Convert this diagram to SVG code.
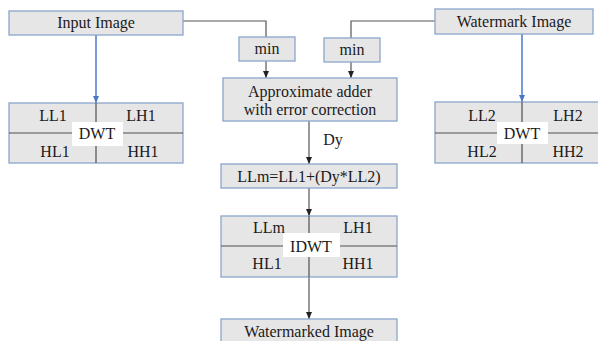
<svg xmlns="http://www.w3.org/2000/svg" width="598" height="341" viewBox="0 0 598 341" font-family="Liberation Serif, DejaVu Serif, serif">
<style>
.box{fill:#e7e6e7;stroke:#8aa6cc;stroke-width:1.3}
.lbl{fill:#ffffff;stroke:none}
.div{stroke:#505050;stroke-width:1.2;fill:none}
.t{font-size:16px;fill:#1a1a1a;text-anchor:middle}
.c{fill:none;stroke:#555555;stroke-width:1.2}
.cb{fill:none;stroke:#4a78c8;stroke-width:1.5}
</style>
<defs>
<marker id="ah" viewBox="0 0 7 6" refX="7" refY="3" markerWidth="7" markerHeight="6" orient="auto" markerUnits="userSpaceOnUse">
<path d="M0,0 L7,3 L0,6 Z" fill="#222222"/>
</marker>
<marker id="ahb" viewBox="0 0 7 6" refX="7" refY="3" markerWidth="7" markerHeight="6" orient="auto" markerUnits="userSpaceOnUse">
<path d="M0,0 L7,3 L0,6 Z" fill="#4a78c8"/>
</marker>
</defs>

<g id="connectors">
<path class="c" d="M183,21 H266 V37"/>
<path class="c" d="M435,21 H351 V38"/>
<path class="c" d="M266,61 V78" marker-end="url(#ah)"/>
<path class="c" d="M351,62 V78" marker-end="url(#ah)"/>
<path class="c" d="M309,121 V164" marker-end="url(#ah)"/>
<path class="c" d="M309,188 V216" marker-end="url(#ah)"/>
<path class="c" d="M309,277 V319" marker-end="url(#ah)"/>
<path class="cb" d="M96,35 V103" marker-end="url(#ahb)"/>
<path class="cb" d="M522,34 V102" marker-end="url(#ahb)"/>
<text class="t" x="333" y="145" font-family="Liberation Serif, serif">Dy</text>
</g>

<g id="input-image">
<rect class="box" x="9" y="11" width="174" height="24"/>
<text class="t" x="96" y="28" font-family="Liberation Serif, serif">Input Image</text>
</g>

<g id="watermark-image">
<rect class="box" x="435" y="9" width="158" height="25"/>
<text class="t" x="514" y="27" font-family="Liberation Serif, serif">Watermark Image</text>
</g>

<g id="min1">
<rect class="box" x="239" y="37" width="56" height="24"/>
<text class="t" x="267" y="54" font-family="Liberation Serif, serif">min</text>
</g>

<g id="min2">
<rect class="box" x="324" y="38" width="56" height="24"/>
<text class="t" x="352" y="55" font-family="Liberation Serif, serif">min</text>
</g>

<g id="adder">
<rect class="box" x="223" y="78" width="174" height="43"/>
<text class="t" x="310" y="97" font-family="Liberation Serif, serif">Approximate adder</text>
<text class="t" x="310" y="115" font-family="Liberation Serif, serif">with error correction</text>
</g>

<g id="dwt1" font-family="Liberation Serif, serif">
<rect class="box" x="9" y="103" width="174" height="60"/>
<path class="div" d="M9,133 H183 M96,103 V163"/>
<rect class="lbl" x="72" y="122" width="51" height="24"/>
<text class="t" x="53" y="121">LL1</text>
<text class="t" x="141" y="121">LH1</text>
<text class="t" x="97" y="139">DWT</text>
<text class="t" x="55" y="157">HL1</text>
<text class="t" x="143" y="157">HH1</text>
</g>

<g id="dwt2" font-family="Liberation Serif, serif">
<rect class="box" x="435" y="102" width="170" height="61"/>
<path class="div" d="M435,133 H598 M522,102 V163"/>
<rect class="lbl" x="497" y="122" width="51" height="22"/>
<text class="t" x="482" y="121">LL2</text>
<text class="t" x="568" y="121">LH2</text>
<text class="t" x="522" y="139">DWT</text>
<text class="t" x="482" y="157">HL2</text>
<text class="t" x="568" y="157">HH2</text>
</g>

<g id="llm" font-family="Liberation Serif, serif">
<rect class="box" x="221" y="164" width="176" height="24"/>
<text class="t" x="309" y="182">LLm=LL1+(Dy*LL2)</text>
</g>

<g id="idwt" font-family="Liberation Serif, serif">
<rect class="box" x="221" y="216" width="176" height="61"/>
<path class="div" d="M221,246 H397 M309,216 V277"/>
<rect class="lbl" x="283" y="233" width="57" height="24"/>
<text class="t" x="269" y="233">LLm</text>
<text class="t" x="358" y="233">LH1</text>
<text class="t" x="311" y="252">IDWT</text>
<text class="t" x="267" y="269">HL1</text>
<text class="t" x="358" y="269">HH1</text>
</g>

<g id="watermarked-image" font-family="Liberation Serif, serif">
<rect class="box" x="221" y="319" width="176" height="30"/>
<text class="t" x="309" y="337">Watermarked Image</text>
</g>
</svg>
